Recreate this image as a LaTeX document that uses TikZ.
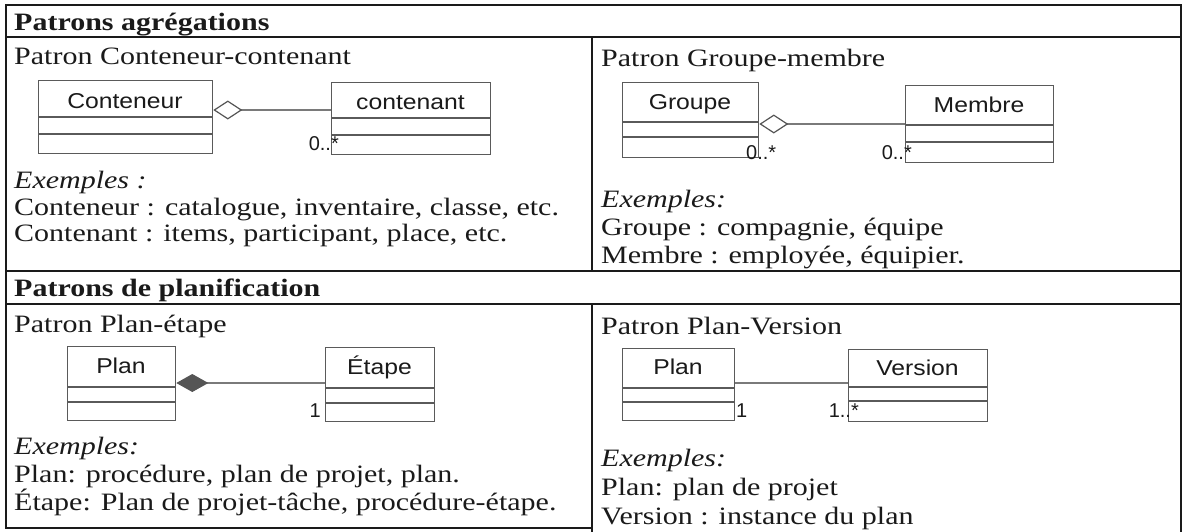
\documentclass[tikz,border=0pt]{standalone}
\usepackage{fontspec}
\setmainfont{Liberation Serif}[FakeStretch=1.2]
\newfontfamily\umlfont{Liberation Sans}[FakeStretch=1.15]
\newfontfamily\multfont{Liberation Sans}
\usetikzlibrary{arrows.meta}
\definecolor{ink}{HTML}{1A1A1A}
\definecolor{boxc}{HTML}{5A5A5A}
\definecolor{linkc}{HTML}{7A7A7A}
\definecolor{compc}{HTML}{555555}
\tikzset{
  txt/.style={anchor=base west, inner sep=0pt, font=\fontsize{25}{29}\selectfont, text=ink},
  hdr/.style={txt, font=\fontsize{25}{29}\selectfont\bfseries},
  ex/.style={txt, font=\fontsize{25}{29}\selectfont\itshape},
  classbox/.style={draw=boxc, line width=1.3pt, anchor=north west, inner sep=0pt},
  cname/.style={anchor=base, inner sep=0pt, font=\umlfont\fontsize{21.5}{25}\selectfont, text=ink},
  mult/.style={inner sep=0pt, font=\multfont\fontsize{20}{24}\selectfont, text=ink},
  sepline/.style={draw=boxc, line width=1.1pt},
  link/.style={draw=linkc, line width=1.2pt},
  gridline/.style={draw=ink, line width=1.6pt, line cap=rect},
}
\begin{document}
\begin{tikzpicture}[x=1pt,y=-1pt]
\useasboundingbox (0,0) rectangle (1186,531);
% table grid
\coordinate (tl) at (6,5);
\coordinate (tr) at (1181,5);
\coordinate (bl) at (6,528);
\coordinate (bm) at (592,528);
\coordinate (brr) at (1181,531);
\coordinate (bmm) at (592,531);
\draw[gridline] (bm) -- (bl) -- (tl) -- (tr) -- (brr);
\draw[gridline] (6,37) -- (1181,37);
\draw[gridline] (6,271) -- (1181,271);
\draw[gridline] (6,304) -- (1181,304);
\draw[gridline] (592,37) -- (592,271);
\draw[gridline] (592,304) -- (bmm);

% headers
\node[hdr] (h1) at (14,30) {Patrons agrégations};
\node[hdr] (h2) at (14,296) {Patrons de planification};

% ---- Conteneur-contenant
\node[txt] (t1) at (14,64) {Patron Conteneur-contenant};
\node[classbox, minimum width=174pt, minimum height=73pt] (conteneur) at (38,80) {};
\node[cname] (conteneurN) at (125,108) {Conteneur};
\draw[sepline] (conteneur.west |- 0,117) -- (conteneur.east |- 0,117);
\draw[sepline] (conteneur.west |- 0,134) -- (conteneur.east |- 0,134);
\node[classbox, minimum width=159pt, minimum height=72pt] (contenant) at (331,82) {};
\node[cname] (contenantN) at (410.5,109) {contenant};
\draw[sepline] (contenant.west |- 0,118) -- (contenant.east |- 0,118);
\draw[sepline] (contenant.west |- 0,135) -- (contenant.east |- 0,135);
\draw[link, {Diamond[open, length=29pt, width=19pt, line width=1.2pt, color=compc]}-] (conteneur.east |- 0,110) -- (contenant.west |- 0,110);
\node[mult, anchor=base east] (m1) at (339,150) {0..*};
\node[ex] (e1) at (14,188) {Exemples :};
\node[txt] (e1a) at (14,215) {Conteneur : catalogue, inventaire, classe, etc.};
\node[txt] (e1b) at (14,241) {Contenant : items, participant, place, etc.};

% ---- Groupe-membre
\node[txt] (t2) at (601,66) {Patron Groupe-membre};
\node[classbox, minimum width=136pt, minimum height=75pt] (groupe) at (622,82) {};
\node[cname] (groupeN) at (690,109) {Groupe};
\draw[sepline] (groupe.west |- 0,122) -- (groupe.east |- 0,122);
\draw[sepline] (groupe.west |- 0,137) -- (groupe.east |- 0,137);
\node[classbox, minimum width=148pt, minimum height=77pt] (membre) at (905,85) {};
\node[cname] (membreN) at (979,112) {Membre};
\draw[sepline] (membre.west |- 0,125) -- (membre.east |- 0,125);
\draw[sepline] (membre.west |- 0,142) -- (membre.east |- 0,142);
\draw[link, {Diamond[open, length=29pt, width=19pt, line width=1.2pt, color=compc]}-] (groupe.east |- 0,124) -- (membre.west |- 0,124);
\node[mult, anchor=base west] (m2) at (746,159) {0..*};
\node[mult, anchor=base east] (m3) at (912,159) {0..*};
\node[ex] (e2) at (601,207) {Exemples:};
\node[txt] (e2a) at (601,235) {Groupe : compagnie, équipe};
\node[txt] (e2b) at (601,263) {Membre : employée, équipier.};

% ---- Plan-etape
\node[txt] (t3) at (14,332) {Patron Plan-étape};
\node[classbox, minimum width=108pt, minimum height=74pt] (plan1) at (67,346) {};
\node[cname] (plan1N) at (121,373) {Plan};
\draw[sepline] (plan1.west |- 0,387) -- (plan1.east |- 0,387);
\draw[sepline] (plan1.west |- 0,402) -- (plan1.east |- 0,402);
\node[classbox, minimum width=109pt, minimum height=74pt] (etape) at (325,347) {};
\node[cname] (etapeN) at (379.5,374) {Étape};
\draw[sepline] (etape.west |- 0,388) -- (etape.east |- 0,388);
\draw[sepline] (etape.west |- 0,403) -- (etape.east |- 0,403);
\draw[link, {Diamond[length=32pt, width=18pt, color=compc, fill=compc]}-] (plan1.east |- 0,383) -- (etape.west |- 0,383);
\node[mult, anchor=base east] (m4) at (321,417) {1};
\node[ex] (e3) at (14,454) {Exemples:};
\node[txt] (e3a) at (14,482) {Plan: procédure, plan de projet, plan.};
\node[txt] (e3b) at (14,510) {Étape: Plan de projet-tâche, procédure-étape.};

% ---- Plan-Version
\node[txt] (t4) at (601,334) {Patron Plan-Version};
\node[classbox, minimum width=112pt, minimum height=72pt] (plan2) at (622,348) {};
\node[cname] (plan2N) at (678,374) {Plan};
\draw[sepline] (plan2.west |- 0,388) -- (plan2.east |- 0,388);
\draw[sepline] (plan2.west |- 0,402) -- (plan2.east |- 0,402);
\node[classbox, minimum width=139pt, minimum height=72pt] (version) at (848,349) {};
\node[cname] (versionN) at (917.5,375) {Version};
\draw[sepline] (version.west |- 0,387) -- (version.east |- 0,387);
\draw[sepline] (version.west |- 0,401) -- (version.east |- 0,401);
\draw[link] (plan2.east |- 0,383) -- (version.west |- 0,383);
\node[mult, anchor=base west] (m5) at (736,417) {1};
\node[mult, anchor=base east] (m6) at (859,417) {1..*};
\node[ex] (e4) at (601,466) {Exemples:};
\node[txt] (e4a) at (601,495) {Plan: plan de projet};
\node[txt] (e4b) at (601,524) {Version : instance du plan};
\end{tikzpicture}
\end{document}
